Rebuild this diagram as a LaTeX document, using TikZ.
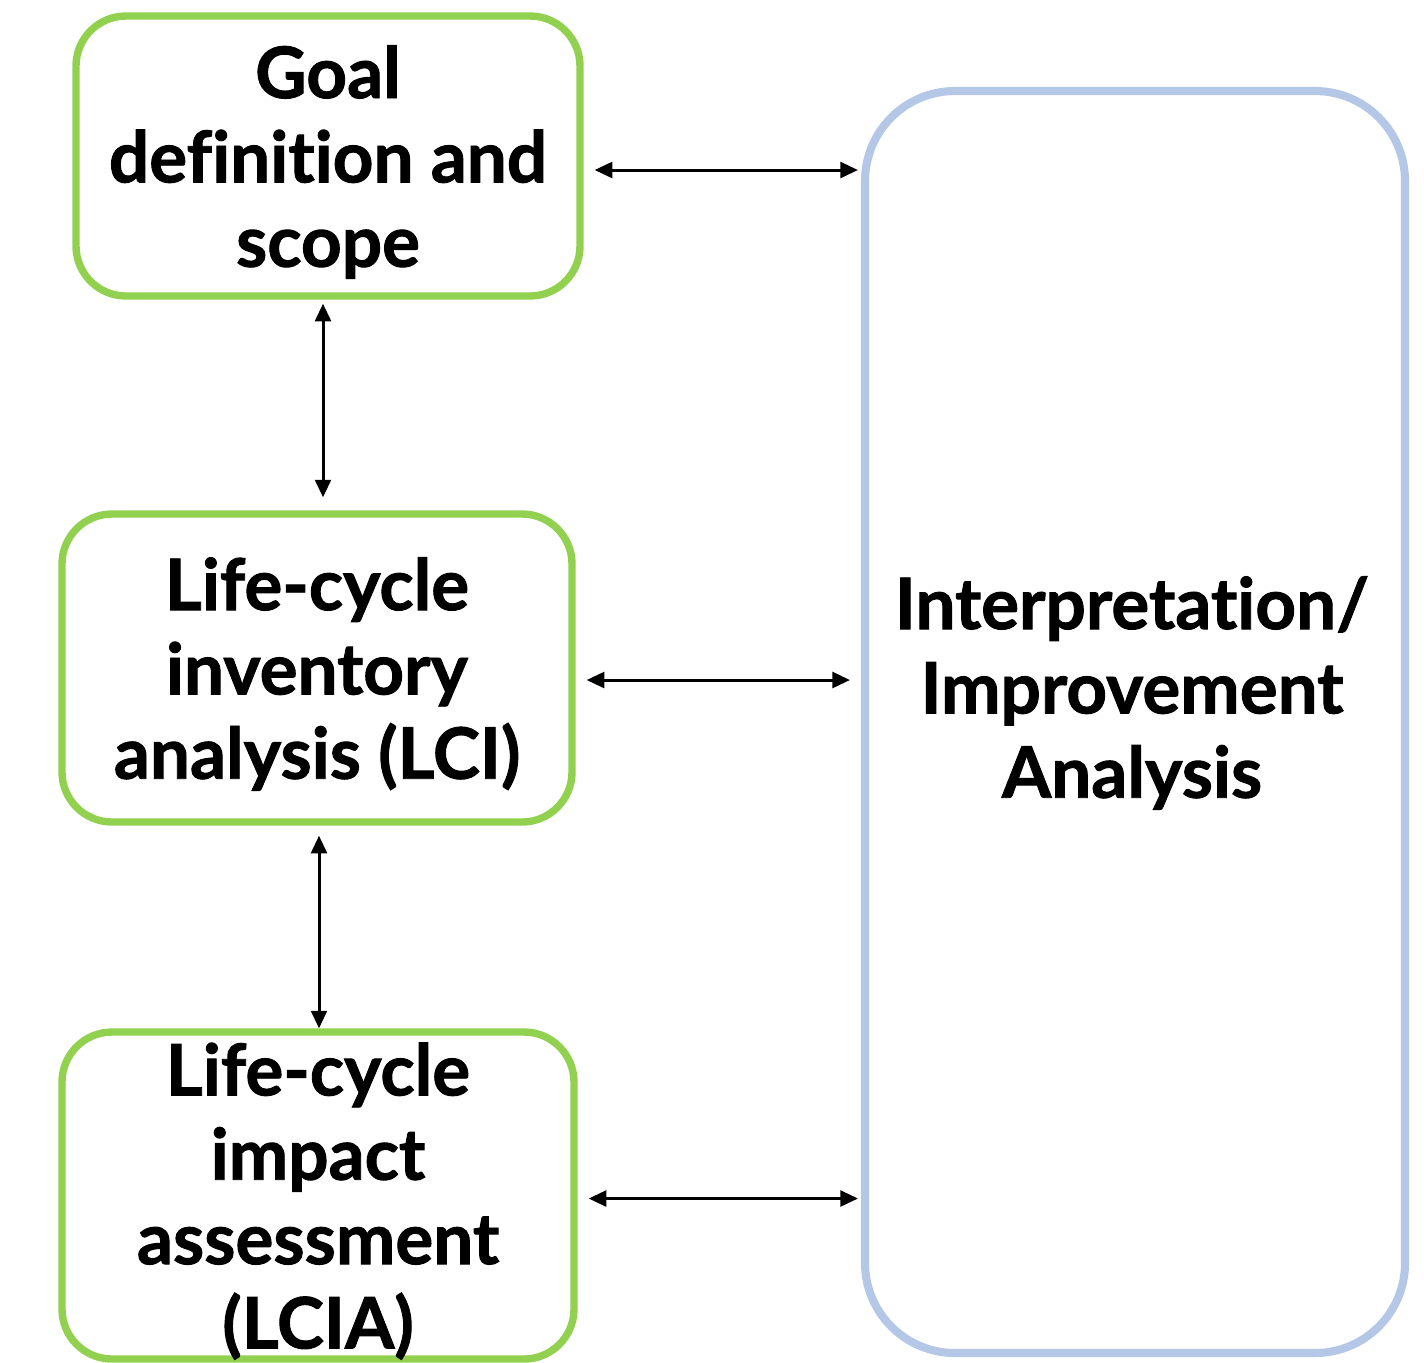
\documentclass[tikz,border=0pt]{standalone}
\usepackage{fontspec}
\setmainfont{Lato}[Ligatures={NoCommon,NoContextual,NoRare}, BoldFeatures={FakeBold=1.3}]
\usetikzlibrary{arrows.meta}

\definecolor{stepgreen}{HTML}{92D050}
\definecolor{interblue}{HTML}{B4C7E7}

\tikzset{
  stage/.style={draw=stepgreen, line width=2.1pt, rounded corners=0.5cm,
    align=center, font=\fontsize{20.2}{24}\selectfont\bfseries, inner sep=0pt, text depth=0pt},
  arr/.style={{Triangle[length=5pt,width=4.5pt]}-{Triangle[length=5pt,width=4.5pt]}, line width=0.85pt}
}

\begin{document}
\begin{tikzpicture}
\useasboundingbox (0,0) rectangle (14.24,-13.62);

% the three stages
\node[stage, minimum width=5.04cm, minimum height=2.80cm] (goal) at (3.28,-1.56)
  {Goal\\definition and\\scope};
\node[stage, minimum width=5.10cm, minimum height=3.08cm] (lci) at (3.17,-6.68)
  {Life-cycle\\inventory\\analysis (LCI)};
\node[stage, minimum width=5.12cm, minimum height=3.27cm] (lcia) at (3.18,-11.955)
  {Life-cycle\\impact\\assessment\\(LCIA)};

% interpretation
\node[stage, draw=interblue, line width=2.3pt, rounded corners=0.9cm,
  minimum width=5.40cm, minimum height=12.62cm] (interp) at (11.35,-7.22) {};
\node[font=\fontsize{20.2}{24}\selectfont\bfseries, align=center, text depth=0pt] (interptext) at (11.32,-6.87)
  {Interpretation/\\Improvement\\Analysis};

% arrows to interpretation
\draw[arr, shorten <=0.11cm, shorten >=0.03cm] ([yshift=-0.14cm]goal.east) -- ([yshift=-0.14cm]goal.east -| interp.west);
\draw[arr, shorten <=0.11cm, shorten >=0.11cm] ([yshift=-0.12cm]lci.east) -- ([yshift=-0.12cm]lci.east -| interp.west);
\draw[arr, shorten <=0.11cm, shorten >=0.03cm] ([yshift=-0.03cm]lcia.east) -- ([yshift=-0.03cm]lcia.east -| interp.west);

% arrows between stages
\draw[arr, shorten <=0.04cm, shorten >=0.13cm] ([xshift=-0.05cm]goal.south) -- ([xshift=-0.05cm]goal.south |- lci.north);
\draw[arr, shorten <=0.10cm, shorten >=0.0cm] ([xshift=0.02cm]lci.south) -- ([xshift=0.02cm]lci.south |- lcia.north);
\end{tikzpicture}
\end{document}
